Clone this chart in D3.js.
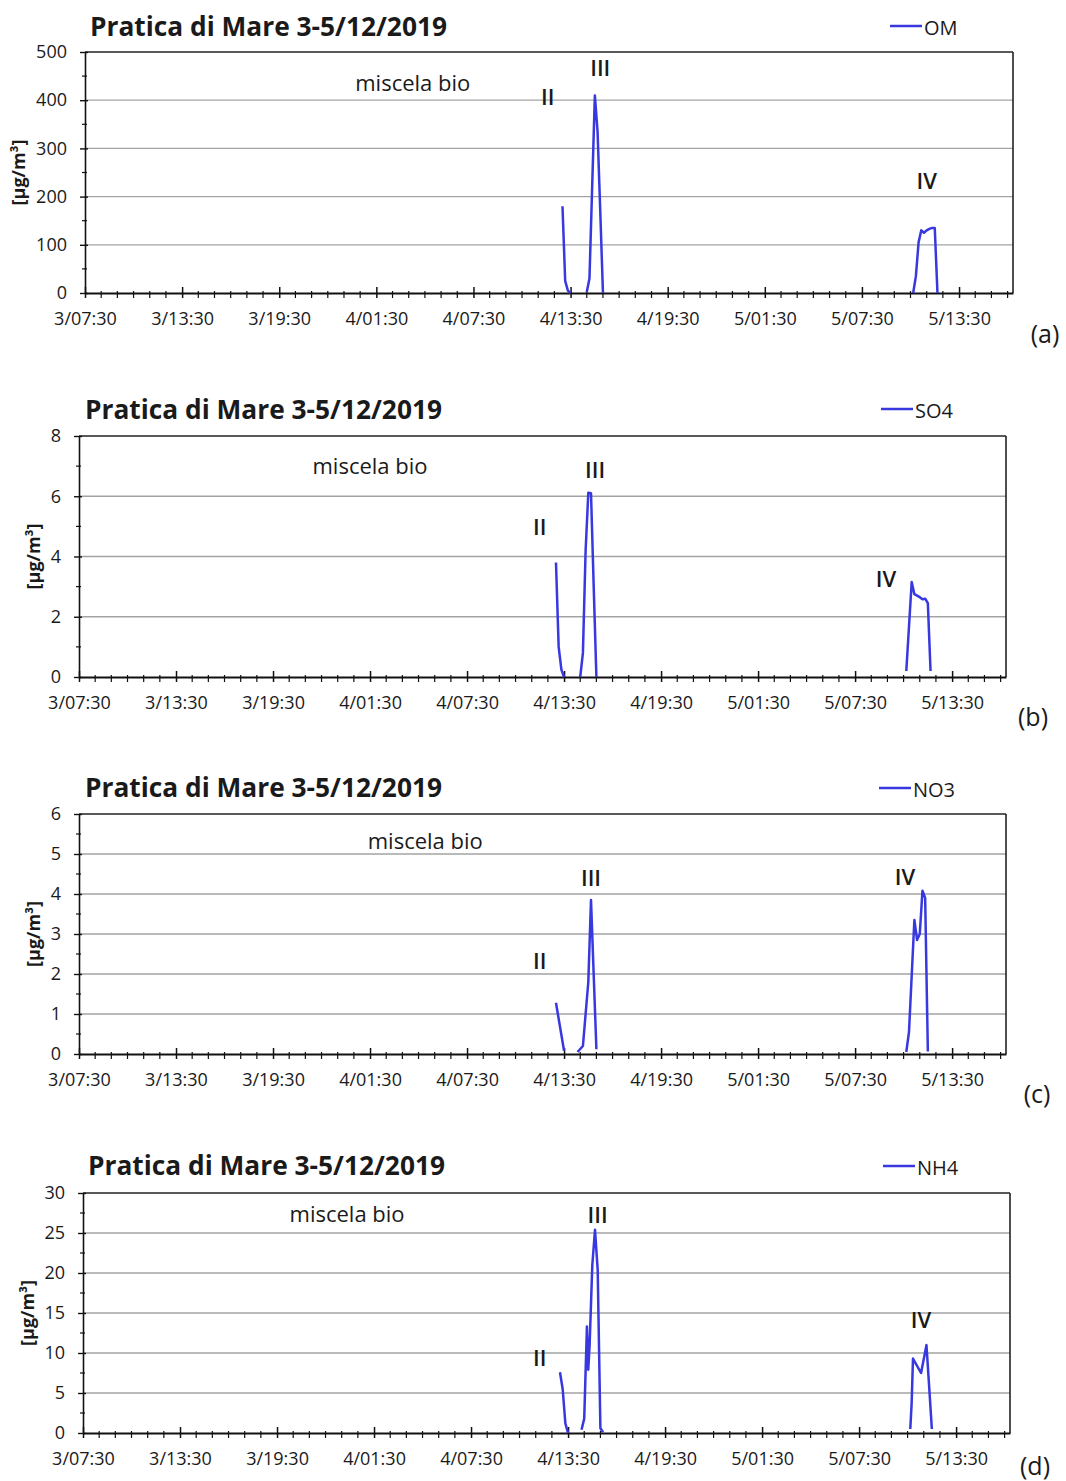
<!DOCTYPE html>
<html>
<head>
<meta charset="utf-8">
<script src="https://cdn.jsdelivr.net/npm/d3@7"></script>
<style>
  body { margin: 0; background: #fff; }
  svg { display: block; }
  text { font-family: "Open Sans", "Liberation Sans", sans-serif; fill: #1a1a1a; }
</style>
</head>
<body>
<svg id="chart" width="1066" height="1481"></svg>
<script>
// ---- Data -------------------------------------------------------------
// Time stamps are "day/HH:MM" in December 2019; null splits a series into segments.
const axisStart = "3/07:30";
const axisEnd = "5/16:50";
const tickLabels = ["3/07:30", "3/13:30", "3/19:30", "4/01:30", "4/07:30",
                    "4/13:30", "4/19:30", "5/01:30", "5/07:30", "5/13:30"];

const omTimes = ["4/13:00", "4/13:10", "4/13:20", "4/13:30", null,
  "4/14:30", "4/14:40", "4/14:50", "4/15:00", "4/15:10", "4/15:20", "4/15:30", null,
  "5/10:40", "5/10:50", "5/11:00", "5/11:10", "5/11:20", "5/11:30", "5/11:40", "5/11:50", "5/12:00", "5/12:10"];
const omValues = [180, 25, 5, 0, null,
  2, 30, 220, 410, 335, 170, 0, null,
  0, 35, 105, 130, 125, 130, 133, 135, 135, 0];

const so4Times = ["4/13:00", "4/13:10", "4/13:20", "4/13:30", null,
  "4/14:30", "4/14:40", "4/14:50", "4/15:00", "4/15:10", "4/15:20", "4/15:30", null,
  "5/10:40", "5/11:00", "5/11:10", "5/11:30", "5/11:40", "5/11:50", "5/12:00", "5/12:10"];
const so4Values = [3.8, 1.0, 0.25, 0, null,
  0, 0.8, 4.2, 6.12, 6.1, 3.0, 0, null,
  0.2, 3.15, 2.75, 2.65, 2.58, 2.6, 2.45, 0.2];

const no3Times = ["4/13:00", "4/13:30", null,
  "4/14:20", "4/14:40", "4/14:50", "4/15:00", "4/15:10", "4/15:30", null,
  "5/10:40", "5/10:50", "5/11:10", "5/11:20", "5/11:30", "5/11:40", "5/11:50", "5/12:00"];
const no3Values = [1.28, 0.08, null,
  0.05, 0.2, 1.0, 1.8, 3.85, 0.12, null,
  0.05, 0.55, 3.35, 2.85, 3.0, 4.08, 3.9, 0.06];

const nh4Times = ["4/13:00", "4/13:10", "4/13:20", "4/13:30", null,
  "4/14:20", "4/14:30", "4/14:40", "4/14:45", "4/14:50", "4/15:00", "4/15:10", "4/15:20", "4/15:30", "4/15:40", null,
  "5/10:40", "5/10:45", "5/10:50", "5/11:20", "5/11:40", "5/11:50", "5/12:00"];
const nh4Values = [7.6, 5.5, 1.2, 0, null,
  0.4, 1.8, 13.3, 7.9, 11, 21, 25.4, 20.4, 0.6, 0.1, null,
  0.5, 3.7, 9.3, 7.5, 11, 5.8, 0.5];

// Episode annotations: text, time, value (placed through the panel scales)
const omNotes  = [["miscela bio", "4/03:45", 438], ["II", "4/12:05", 409], ["III", "4/15:20", 469], ["IV", "5/11:30", 234]];
const so4Notes = [["miscela bio", "4/01:30", 7.04], ["II", "4/12:00", 5.01], ["III", "4/15:25", 6.9], ["IV", "5/09:25", 3.29]];
const no3Notes = [["miscela bio", "4/04:55", 5.35], ["II", "4/12:00", 2.35], ["III", "4/15:10", 4.42], ["IV", "5/10:35", 4.45]];
const nh4Notes = [["miscela bio", "3/23:50", 27.5], ["II", "4/11:45", 9.5], ["III", "4/15:20", 27.4], ["IV", "5/11:20", 14.25]];

const title = "Pratica di Mare 3-5/12/2019";
const unitLabel = "[µg/m³]";

// ---- Layout -----------------------------------------------------------
const panels = [
  { name: "OM",  times: omTimes,  values: omValues,  notes: omNotes,  yMax: 500, yStep: 100, tag: "(a)",
    left: 85, right: 1013, top: 52,   bottom: 293,  titleX: 90, titleY: 26,
    legX: 890, legY: 26, unitX: 18, tagX: 1045, tagY: 333 },
  { name: "SO4", times: so4Times, values: so4Values, notes: so4Notes, yMax: 8,   yStep: 2,   tag: "(b)",
    left: 79, right: 1006, top: 436,  bottom: 677,  titleX: 85, titleY: 409,
    legX: 881, legY: 409, unitX: 33, tagX: 1033, tagY: 716 },
  { name: "NO3", times: no3Times, values: no3Values, notes: no3Notes, yMax: 6,   yStep: 1,   tag: "(c)",
    left: 79, right: 1006, top: 814,  bottom: 1054, titleX: 85, titleY: 787,
    legX: 879, legY: 788, unitX: 33, tagX: 1037, tagY: 1093 },
  { name: "NH4", times: nh4Times, values: nh4Values, notes: nh4Notes, yMax: 30,  yStep: 5,   tag: "(d)",
    left: 83, right: 1010, top: 1193, bottom: 1433, titleX: 88, titleY: 1165,
    legX: 883, legY: 1166, unitX: 27, tagX: 1035, tagY: 1465 }
];

const lineColor = "#3838e0";
const gridColor = "#a3a3a3";

// hours elapsed since the start of the axis
function hoursOf(s) {
  const [d, hm] = s.split("/");
  const [h, m] = hm.split(":").map(Number);
  return (+d - 3) * 24 + h + m / 60 - 7.5;
}

const svg = d3.select("#chart");
const t0 = hoursOf(axisStart), t1 = hoursOf(axisEnd);
const majorHours = tickLabels.map(hoursOf);
const minorHours = d3.range(Math.ceil(t0), t1 + 1e-9, 1).filter(h => !majorHours.some(m => Math.abs(m - h) < 1e-6));

panels.forEach(p => {
  const g = svg.append("g");
  const x = d3.scaleLinear().domain([t0, t1]).range([p.left, p.right]);
  const y = d3.scaleLinear().domain([0, p.yMax]).range([p.bottom, p.top]);

  // horizontal gridlines
  g.append("g").selectAll("line")
    .data(d3.range(p.yStep, p.yMax - 1e-9, p.yStep))
    .join("line")
    .attr("x1", p.left).attr("x2", p.right)
    .attr("y1", d => y(d)).attr("y2", d => y(d))
    .attr("stroke", gridColor).attr("stroke-width", 1.3);

  // frame top and right
  g.append("line").attr("x1", p.left).attr("x2", p.right).attr("y1", p.top).attr("y2", p.top)
    .attr("stroke", "#222").attr("stroke-width", 1.6);
  g.append("line").attr("x1", p.right).attr("x2", p.right).attr("y1", p.top).attr("y2", p.bottom)
    .attr("stroke", "#222").attr("stroke-width", 1.6);

  // y axis: major ticks with labels, minor ticks at half steps
  const yMajor = d3.range(0, p.yMax + 1e-9, p.yStep);
  const yMinor = d3.range(p.yStep / 2, p.yMax, p.yStep);
  const yAxisG = g.append("g").attr("transform", `translate(${p.left},0)`)
    .call(d3.axisLeft(y).tickValues(yMajor).tickFormat(d3.format("d"))
      .tickSizeInner(5).tickSizeOuter(0).tickPadding(13));
  yAxisG.select(".domain").attr("stroke", "#111").attr("stroke-width", 1.6);
  yAxisG.selectAll(".tick line").attr("x1", 3).attr("stroke", "#111").attr("stroke-width", 1.4);
  yAxisG.selectAll(".tick text").style("font-size", "18px").attr("fill", "#1a1a1a");
  g.append("g").selectAll("line").data(yMinor).join("line")
    .attr("x1", p.left - 3).attr("x2", p.left + 2)
    .attr("y1", d => y(d)).attr("y2", d => y(d))
    .attr("stroke", "#111").attr("stroke-width", 1.2);

  // x axis: 6-hourly labelled ticks, hourly minor ticks
  const xAxisG = g.append("g").attr("transform", `translate(0,${p.bottom})`)
    .call(d3.axisBottom(x).tickValues(majorHours).tickFormat((d, i) => tickLabels[i])
      .tickSizeInner(5).tickSizeOuter(0).tickPadding(14));
  xAxisG.select(".domain").attr("stroke", "#111").attr("stroke-width", 2);
  xAxisG.selectAll(".tick line").attr("y1", -6).attr("stroke", "#111").attr("stroke-width", 1.5);
  xAxisG.selectAll(".tick text").style("font-size", "18px").attr("fill", "#1a1a1a");
  g.append("g").selectAll("line").data(minorHours).join("line")
    .attr("x1", d => x(d)).attr("x2", d => x(d))
    .attr("y1", p.bottom - 2).attr("y2", p.bottom + 5)
    .attr("stroke", "#111").attr("stroke-width", 1.2);

  // series
  const pts = p.times.map((t, i) => ({ t: t == null ? null : hoursOf(t), v: p.values[i] }));
  const line = d3.line()
    .defined(d => d.t != null && d.v != null)
    .x(d => x(d.t)).y(d => y(d.v));
  g.append("path").datum(pts)
    .attr("d", line)
    .attr("fill", "none").attr("stroke", lineColor)
    .attr("stroke-width", 2.5).attr("stroke-linejoin", "round");

  // title
  g.append("text").attr("x", p.titleX).attr("y", p.titleY)
    .attr("dominant-baseline", "central")
    .style("font-size", "26px").style("font-weight", "700")
    .attr("textLength", 357).attr("lengthAdjust", "spacingAndGlyphs")
    .text(title);

  // legend
  g.append("line").attr("x1", p.legX).attr("x2", p.legX + 32)
    .attr("y1", p.legY).attr("y2", p.legY)
    .attr("stroke", lineColor).attr("stroke-width", 2.5);
  g.append("text").attr("x", p.legX + 34).attr("y", p.legY + 1)
    .attr("dominant-baseline", "central")
    .style("font-size", "20px")
    .text(p.name);

  // unit label
  g.append("text")
    .attr("transform", `translate(${p.unitX},${(p.top + p.bottom) / 2}) rotate(-90)`)
    .attr("text-anchor", "middle").attr("dominant-baseline", "central")
    .style("font-size", "18px").style("font-weight", "700")
    .text(unitLabel);

  // episode annotations
  g.append("g").selectAll("text").data(p.notes).join("text")
    .attr("x", d => x(hoursOf(d[1]))).attr("y", d => y(d[2]))
    .attr("text-anchor", "middle").attr("dominant-baseline", "central")
    .style("font-size", "22px")
    .style("font-weight", d => d[0] === "miscela bio" ? "400" : "600")
    .text(d => d[0]);

  // panel tag
  g.append("text").attr("x", p.tagX).attr("y", p.tagY)
    .attr("text-anchor", "middle").attr("dominant-baseline", "central")
    .style("font-size", "25px")
    .text(p.tag);
});
</script>
</body>
</html>
